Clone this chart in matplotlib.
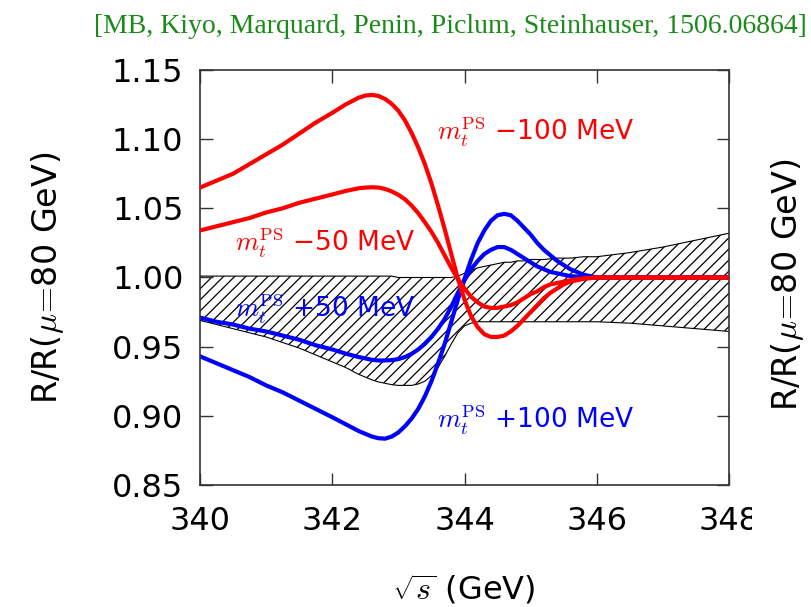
import numpy as np
import matplotlib
matplotlib.use("Agg")
import matplotlib.pyplot as plt
from matplotlib.patches import Rectangle

plt.rcParams['mathtext.fontset'] = 'cm'
plt.rcParams['hatch.linewidth'] = 0.9

# sqrt(s) grid in GeV (finer around threshold)
sqrt_s = [340.0, 340.25, 340.5, 340.75, 341.0, 341.25, 341.5, 341.75, 342.0,
          342.2, 342.4, 342.5, 342.6, 342.7, 342.8, 342.9,
          343.0, 343.1, 343.2, 343.3, 343.4, 343.5, 343.6, 343.7, 343.8, 343.9,
          344.0, 344.1, 344.2, 344.3, 344.4, 344.5, 344.6, 344.7, 344.8, 344.9,
          345.0, 345.1, 345.2, 345.3, 345.4, 345.5, 345.6,
          345.8, 346.0, 346.5, 347.0, 347.5, 348.0]

# R ratio for shifted PS masses
r_minus100 = [1.065, 1.070, 1.075, 1.082, 1.089, 1.096, 1.104, 1.112, 1.119,
              1.125, 1.130, 1.1315, 1.132, 1.1312, 1.129, 1.1255,
              1.1205, 1.1135, 1.1045, 1.094, 1.082, 1.068, 1.052, 1.035, 1.017, 0.999,
              0.984, 0.972, 0.964, 0.959, 0.957, 0.957, 0.958, 0.961, 0.965, 0.970,
              0.975, 0.980, 0.985, 0.989, 0.992, 0.995, 0.997,
              0.999, 1.000, 1.000, 1.000, 1.000, 1.000]
r_minus50 = [1.034, 1.037, 1.040, 1.043, 1.047, 1.050, 1.054, 1.057, 1.060,
             1.0625, 1.0645, 1.065, 1.0652, 1.065, 1.064, 1.0622,
             1.0598, 1.0565, 1.052, 1.0465, 1.040, 1.033, 1.025, 1.016, 1.007, 0.999,
             0.992, 0.986, 0.982, 0.979, 0.978, 0.978, 0.979, 0.980, 0.982, 0.985,
             0.988, 0.990, 0.993, 0.995, 0.996, 0.997, 0.998,
             0.9995, 1.000, 1.000, 1.000, 1.000, 1.000]
r_plus50 = [0.971, 0.968, 0.966, 0.963, 0.961, 0.958, 0.955, 0.951, 0.948,
            0.945, 0.9425, 0.9415, 0.9405, 0.940, 0.940, 0.9403,
            0.941, 0.9425, 0.9448, 0.948, 0.952, 0.957, 0.963, 0.970, 0.979, 0.989,
            0.998, 1.006, 1.012, 1.017, 1.020, 1.022, 1.022, 1.020, 1.017, 1.014,
            1.011, 1.008, 1.006, 1.004, 1.003, 1.002, 1.001,
            1.0003, 1.000, 1.000, 1.000, 1.000, 1.000]
r_plus100 = [0.943, 0.938, 0.933, 0.928, 0.922, 0.917, 0.911, 0.905, 0.899,
             0.894, 0.889, 0.887, 0.885, 0.8838, 0.8835, 0.885,
             0.888, 0.8925, 0.898, 0.905, 0.914, 0.925, 0.938, 0.952, 0.968, 0.984,
             0.999, 1.013, 1.025, 1.034, 1.041, 1.045, 1.046, 1.045, 1.041, 1.036,
             1.031, 1.025, 1.020, 1.016, 1.012, 1.009, 1.006,
             1.002, 1.000, 1.000, 1.000, 1.000, 1.000]

# scale-variation band
band_hi = [1.001, 1.001, 1.001, 1.001, 1.001, 1.001, 1.001, 1.001, 1.001,
           1.001, 1.001, 1.001, 1.001, 1.001, 1.001, 1.001,
           1.000, 1.000, 1.000, 1.000, 1.000, 1.000, 1.000, 1.000, 1.000, 1.001,
           1.003, 1.005, 1.007, 1.008, 1.009, 1.010, 1.011, 1.011, 1.012, 1.012,
           1.013, 1.013, 1.013, 1.0135, 1.014, 1.014, 1.014,
           1.015, 1.015, 1.018, 1.022, 1.027, 1.032]
band_lo = [0.969, 0.966, 0.963, 0.960, 0.957, 0.953, 0.949, 0.944, 0.939,
           0.935, 0.930, 0.928, 0.926, 0.9245, 0.9235, 0.9225,
           0.922, 0.922, 0.922, 0.923, 0.925, 0.929, 0.935, 0.943, 0.952, 0.960,
           0.965, 0.967, 0.968, 0.968, 0.968, 0.968, 0.968, 0.968, 0.968, 0.968,
           0.968, 0.968, 0.968, 0.968, 0.968, 0.968, 0.968,
           0.968, 0.968, 0.967, 0.965, 0.963, 0.961]

xticks = [340, 342, 344, 346, 348]
yticks = [0.85, 0.90, 0.95, 1.00, 1.05, 1.10, 1.15]

fig = plt.figure(figsize=(8.12, 6.07), dpi=100)
ax = fig.add_axes([0.2463, 0.2010, 0.6515, 0.6837])

ax.fill_between(sqrt_s, band_lo, band_hi, facecolor='none', edgecolor='black',
                hatch='///', linewidth=0, zorder=1)
ax.plot(sqrt_s, band_hi, color='black', lw=0.8, zorder=1)
ax.plot(sqrt_s, band_lo, color='black', lw=0.8, zorder=1)

ax.plot(sqrt_s, r_plus100, color='#0000ff', lw=3, zorder=2)
ax.plot(sqrt_s, r_plus50, color='#0000ff', lw=3, zorder=2)
ax.plot(sqrt_s, r_minus50, color='#ff0000', lw=3, zorder=3)
ax.plot(sqrt_s, r_minus100, color='#ff0000', lw=3, zorder=3)

mt = r"$m_t^{\rm PS}$"
lab_kw = dict(fontsize=19, va='center', ha='left', zorder=4)
ax.text(343.58, 1.105, mt + " \u2212100 MeV", color='#ff0000', **lab_kw)
ax.text(340.53, 1.025, mt + " \u221250 MeV", color='#ff0000', **lab_kw)
ax.text(340.53, 0.977, mt + " +50 MeV", color='#0000ff', **lab_kw)
ax.text(343.58, 0.897, mt + " +100 MeV", color='#0000ff', **lab_kw)

ax.set_xlim(340, 348)
ax.set_ylim(0.85, 1.15)
ax.set_xticks(xticks)
ax.set_yticks(yticks)
ax.set_yticklabels(['%.2f' % v for v in yticks])
ax.tick_params(direction='in', length=9, width=1, top=True, right=True,
               labelsize=23, colors='#333333', labelcolor='black')
ax.tick_params(axis='y', pad=12)
ax.tick_params(axis='x', pad=15)
for sp in ax.spines.values():
    sp.set_color('#333333')
    sp.set_linewidth(1.2)

ylab = r"R/R($\mu\!=\!$80 GeV)"
fig.text(0.059, 0.542, ylab, rotation=90, fontsize=24, ha='center', va='center')
fig.text(0.5714, 0.028, r"$\sqrt{s}$ (GeV)", fontsize=23, ha='center', va='center')

# edge of the neighbouring panel cuts into the last tick label
fig.patches.append(Rectangle((752 / 812, 0.10), 1 - 752 / 812, 0.08,
                             transform=fig.transFigure, facecolor='white',
                             edgecolor='none', zorder=5))
fig.text(0.970, 0.53, ylab, rotation=90, fontsize=24, ha='center', va='center', zorder=6)

fig.text(0.994, 0.956, "[MB, Kiyo, Marquard, Penin, Piclum, Steinhauser, 1506.06864]",
         family='Liberation Serif', fontsize=20, color='#1a8a1a', ha='right', va='center')

fig.savefig('out.png', dpi=100)
